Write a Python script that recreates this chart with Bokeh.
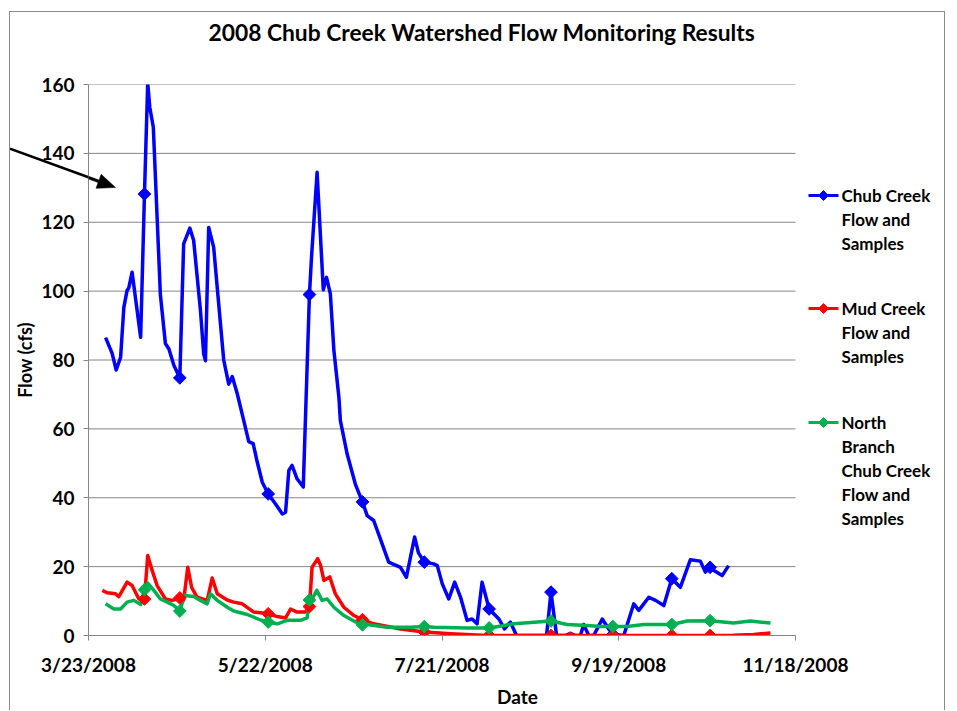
import math
import base64
from bokeh.plotting import figure
from bokeh.models import FixedTicker, PolyAnnotation, Range1d, Title
from bokeh.core.properties import value
from bokeh.embed import file_html
from bokeh.resources import INLINE

# ---------------- data (days after 3/23/2008, flow in cfs) ----------------
title_text = "2008 Chub Creek Watershed Flow Monitoring Results"
x_tick_days = [0, 60, 120, 180, 240]
x_tick_labels = ["3/23/2008", "5/22/2008", "7/21/2008", "9/19/2008", "11/18/2008"]
y_ticks = [0, 20, 40, 60, 80, 100, 120, 140, 160]

chub_days = [5.8, 8.0, 9.4, 10.9, 12.0, 13.1, 13.7, 14.8, 17.7, 19.0,
             20.1, 20.8, 22.0, 24.4, 26.1, 27.3, 29.0, 31.0, 32.3, 34.4,
             35.7, 38.0, 39.1, 39.7, 40.8, 42.5, 43.7, 45.9, 47.6, 48.8,
             50.5, 52.7, 54.4, 55.9, 57.3, 59.0, 61.0, 63.5, 65.8, 66.9,
             68.0, 69.1, 70.8, 72.9, 75.0, 75.7, 77.6, 79.7, 80.8, 82.1,
             83.3, 85.0, 85.5, 87.8, 90.6, 93.0, 94.6, 96.8, 99.1, 101.9,
             105.9, 107.9, 110.7, 112.0, 114.0, 117.2, 118.4, 120.1, 122.3, 124.3,
             126.3, 128.5, 130.2, 131.9, 133.6, 136.0, 139.3, 141.2, 143.2, 145.3,
             155.5, 157.0, 158.9, 161.9, 163.6, 165.3, 167.0, 168.1, 169.8, 171.5,
             174.4, 176.6, 178.0, 181.7, 185.1, 186.8, 190.2, 192.5, 195.3, 198.0,
             200.9, 204.3, 207.7, 209.4, 211.0, 212.3, 215.1, 217.3]
chub_flow = [86.5, 82.0, 77.1, 80.8, 95.3, 100.2, 101.0, 105.5, 86.6, 128.2,
             160.4, 153.4, 147.6, 99.0, 84.8, 83.2, 78.4, 74.8, 113.7, 118.3,
             114.7, 94.4, 81.8, 79.8, 118.5, 112.7, 101.0, 80.0, 73.0, 75.2,
             70.2, 62.4, 56.3, 55.7, 50.3, 44.5, 41.1, 38.2, 35.3, 35.8,
             47.9, 49.4, 45.5, 43.1, 99.0, 109.8, 134.5, 100.4, 104.0, 99.2,
             82.8, 69.2, 62.4, 52.7, 43.9, 38.8, 34.8, 33.4, 28.0, 21.3,
             19.8, 16.9, 28.6, 24.0, 21.3, 20.8, 20.3, 15.0, 10.6, 15.5,
             11.1, 4.4, 4.8, 3.4, 15.5, 7.7, 4.8, 1.9, 3.9, 0.0,
             0.0, 12.6, 0.0, 0.0, 0.6, 0.0, 0.0, 3.2, 0.0, 0.0,
             4.8, 1.9, 0.3, 0.0, 9.2, 7.3, 11.1, 10.2, 8.7, 16.5,
             14.0, 22.0, 21.6, 18.4, 19.8, 18.9, 17.4, 20.3]

mud_days = [4.7, 6.3, 9.2, 10.3, 13.1, 14.8, 17.1, 18.2, 19.0, 20.1,
            21.6, 23.3, 26.1, 28.4, 31.0, 32.3, 33.7, 35.0, 36.9, 40.3,
            42.0, 43.7, 47.1, 49.3, 52.2, 56.1, 61.0, 64.1, 66.9, 68.6,
            70.8, 73.7, 75.0, 75.9, 77.8, 78.8, 79.9, 81.9, 83.8, 86.7,
            90.1, 93.0, 96.8, 105.9, 114.0, 122.9, 135.3, 163.0, 163.6, 164.5,
            218.9, 225.8, 231.5]
mud_flow = [13.1, 12.4, 12.1, 11.3, 15.5, 14.5, 10.6, 10.2, 10.6, 23.2,
            18.9, 14.5, 10.6, 10.2, 10.9, 10.2, 19.8, 14.0, 11.1, 10.2,
            16.7, 12.1, 10.3, 9.7, 9.2, 6.8, 6.3, 5.5, 5.1, 7.7,
            6.8, 6.8, 8.4, 19.8, 22.3, 20.3, 16.0, 17.0, 12.1, 8.2,
            5.8, 4.6, 3.4, 1.9, 1.0, 0.5, 0.0, 0.0, 0.6, 0.0,
            0.1, 0.3, 0.7]

nb_days = [5.8, 8.6, 10.9, 13.1, 15.4, 17.7, 19.0, 20.1, 22.2, 24.4,
           26.7, 29.0, 31.0, 32.6, 35.7, 38.0, 40.3, 41.4, 43.7, 47.1,
           49.3, 53.9, 58.4, 61.0, 64.1, 67.4, 71.9, 74.2, 75.0, 75.6,
           77.5, 79.3, 81.0, 83.3, 86.7, 90.1, 93.0, 94.6, 101.4, 109.3,
           114.0, 117.2, 128.5, 136.0, 144.4, 157.0, 162.5, 169.3, 173.8, 178.0,
           182.9, 188.5, 198.0, 203.2, 211.0, 219.0, 224.7, 231.5]
nb_flow = [9.2, 7.7, 7.7, 9.7, 10.2, 9.0, 13.3, 15.2, 13.1, 10.6,
           9.7, 8.7, 7.1, 11.6, 11.3, 10.2, 9.2, 12.1, 10.2, 8.2,
           7.1, 6.1, 4.5, 3.9, 3.4, 4.4, 4.4, 5.1, 10.3, 10.2,
           13.1, 10.2, 10.6, 8.2, 5.8, 4.2, 3.1, 3.2, 2.4, 2.4,
           2.6, 2.4, 2.2, 2.2, 3.4, 4.2, 3.2, 2.9, 2.6, 2.6,
           2.6, 3.2, 3.2, 4.2, 4.3, 3.6, 4.2, 3.6]

sample_days = [19, 31, 61, 75, 93, 114, 136, 157, 178, 198, 211]
chub_samples = [128.2, 74.8, 41.1, 99.0, 38.8, 21.3, 7.7, 12.6, 0.3, 16.5, 19.8]
mud_samples = [10.6, 10.9, 6.3, 8.4, 4.6, 1.0, 0.0, 0.0, 0.0, 0.0, 0.0]
nb_samples = [13.3, 7.1, 3.9, 10.3, 3.1, 2.6, 2.2, 4.2, 2.6, 3.2, 4.3]

legend_lines = [["Chub Creek", "Flow and", "Samples"],
                ["Mud Creek", "Flow and", "Samples"],
                ["North", "Branch", "Chub Creek", "Flow and", "Samples"]]

# ---------------- styling / layout (page pixels) ----------------
FONT = "Lato"
BLUE = "#0000FF"
RED = "#FF0000"
GREEN = "#00B050"
GRID = "#868686"
colors = [BLUE, RED, GREEN]

PLOT_LEFT, PLOT_RIGHT, PLOT_TOP, PLOT_BOTTOM = 88.0, 795.0, 84.0, 635.0
FRAME_RIGHT = 946.0                      # frame extends under the legend
HOST_X, HOST_Y = 10.0, 12.0              # page position of the figure's content box
px_per_day = (PLOT_RIGHT - PLOT_LEFT) / 240.0
px_per_cfs = (PLOT_BOTTOM - PLOT_TOP) / 160.0
X_END = (FRAME_RIGHT - PLOT_LEFT) / px_per_day


def to_data(px, py):
    return (px - PLOT_LEFT) / px_per_day, (PLOT_BOTTOM - py) / px_per_cfs


# annotation arrow geometry (page pixels)
tail = (10.0, 148.6)
tip = (115.0, 187.0)
dx, dy = tip[0] - tail[0], tip[1] - tail[1]
ln = math.hypot(dx, dy)
ux, uy = dx / ln, dy / ln
vx, vy = -uy, ux
head_len, head_half, shaft_half = 18.0, 7.5, 1.3
base = (tip[0] - head_len * ux, tip[1] - head_len * uy)
shaft_px = [(tail[0] + shaft_half * vx, tail[1] + shaft_half * vy),
            (base[0] + shaft_half * vx, base[1] + shaft_half * vy),
            (base[0] - shaft_half * vx, base[1] - shaft_half * vy),
            (tail[0] - shaft_half * vx, tail[1] - shaft_half * vy)]
head_px = [tip,
           (base[0] + head_half * vx, base[1] + head_half * vy),
           (base[0] - head_half * vx, base[1] - head_half * vy)]

# the part of the arrow that lies left of the plot area (outside Bokeh's clip
# region) is painted as a small svg under the transparent figure border
ox, oy = HOST_X, 130.0
def pts_str(poly):
    return " ".join(f"{a - ox:.1f},{b - oy:.1f}" for a, b in poly)
arrow_svg = ("<svg xmlns='http://www.w3.org/2000/svg' width='130' height='70'>"
             f"<polygon points='{pts_str(shaft_px)}' fill='black'/>"
             f"<polygon points='{pts_str(head_px)}' fill='black'/></svg>")
arrow_uri = "data:image/svg+xml;base64," + base64.b64encode(arrow_svg.encode()).decode()

p = figure(width=936, height=699, output_backend="svg", toolbar_location=None,
           x_range=Range1d(0, X_END), y_range=Range1d(0, 160),
           min_border_left=78, min_border_right=0, min_border_top=72,
           min_border_bottom=76)
p.styles = {"margin-left": "9px", "margin-top": "11px",
            "border-left": "1px solid #8a8a8a", "border-top": "1px solid #8a8a8a",
            "border-right": "1px solid #8a8a8a",
            "background-color": "white",
            "background-image": f'url("{arrow_uri}")',
            "background-repeat": "no-repeat",
            "background-position": f"{ox - HOST_X:.0f}px {oy - HOST_Y:.0f}px",
            "background-size": "130px 70px"}
p.outline_line_color = None
p.background_fill_color = "white"
p.border_fill_color = "white"
p.border_fill_alpha = 0.0

# title, with an empty spacer title between it and the plot area
p.title.text = title_text
p.title.align = "left"
p.title.offset = 120
p.title.standoff = 0
p.title.text_font = FONT
p.title.text_font_size = "22.8px"
p.title.text_font_style = "bold"
p.title.text_color = "black"
p.add_layout(Title(text=" ", text_font_size="1px", standoff=36), "above")

# axes
p.xaxis.ticker = FixedTicker(ticks=x_tick_days)
p.xaxis.major_label_overrides = {d: l for d, l in zip(x_tick_days, x_tick_labels)}
p.xaxis.bounds = (0, 240)
p.yaxis.ticker = FixedTicker(ticks=y_ticks)
p.xaxis.axis_label = "Date"
p.yaxis.axis_label = "Flow (cfs)"
for ax in (p.xaxis, p.yaxis):
    ax.axis_line_color = GRID
    ax.major_tick_line_color = GRID
    ax.major_tick_out = 5
    ax.major_tick_in = 0
    ax.minor_tick_line_color = None
    ax.major_label_text_font = FONT
    ax.major_label_text_font_size = "19px"
    ax.major_label_text_font_style = "bold"
    ax.major_label_text_color = "black"
    ax.axis_label_text_font = FONT
    ax.axis_label_text_font_style = "bold"
    ax.axis_label_text_color = "black"
p.xaxis.major_label_standoff = 12
p.xaxis.axis_label_standoff = 6
p.xaxis.axis_label_text_font_size = "19px"
p.yaxis.major_label_standoff = 9
p.yaxis.axis_label_standoff = 2
p.yaxis.axis_label_text_font_size = "18px"

# horizontal grid limited to the plot area
p.xgrid.grid_line_color = None
p.ygrid.grid_line_color = None
p.segment(x0=[0] * len(y_ticks), y0=y_ticks, x1=[240] * len(y_ticks), y1=y_ticks,
          line_color=GRID, line_width=1)

# series
p.line(chub_days, chub_flow, line_color=BLUE, line_width=3.5, line_join="round")
p.line(mud_days, mud_flow, line_color=RED, line_width=3.5, line_join="round")
p.line(nb_days, nb_flow, line_color=GREEN, line_width=3.5, line_join="round")
for vals, col in ((chub_samples, BLUE), (mud_samples, RED), (nb_samples, GREEN)):
    p.scatter(sample_days, vals, marker="square", angle=math.pi / 4,
              size=9, fill_color=col, line_color=col)

# legend (drawn to the right of the plot area)
first_line_py = [195.0, 308.0, 422.0]
line_step = 24.0
for names, col, py0 in zip(legend_lines, colors, first_line_py):
    xa, ya = to_data(808.0, py0)
    xb, _ = to_data(838.0, py0)
    xm, _ = to_data(823.0, py0)
    p.line([xa, xb], [ya, ya], line_color=col, line_width=3)
    p.scatter([xm], [ya], marker="square", angle=math.pi / 4, size=7,
              fill_color=col, line_color=col)
    tx, _ = to_data(841.0, py0)
    tys = [to_data(841.0, py0 + k * line_step)[1] for k in range(len(names))]
    p.text(x=[tx] * len(names), y=tys, text=names, text_font=value(FONT),
           text_font_size="17px", text_font_style="bold", text_color="black",
           text_baseline="middle", text_align="left")

# in-plot part of the arrow
for poly in (shaft_px, head_px):
    pts = [to_data(a, b) for a, b in poly]
    p.add_layout(PolyAnnotation(xs=[q[0] for q in pts], ys=[q[1] for q in pts],
                                fill_color="black", fill_alpha=1.0,
                                line_color="black", line_alpha=1.0, line_width=0.5))

open("out.html", "w").write(file_html(p, INLINE))
